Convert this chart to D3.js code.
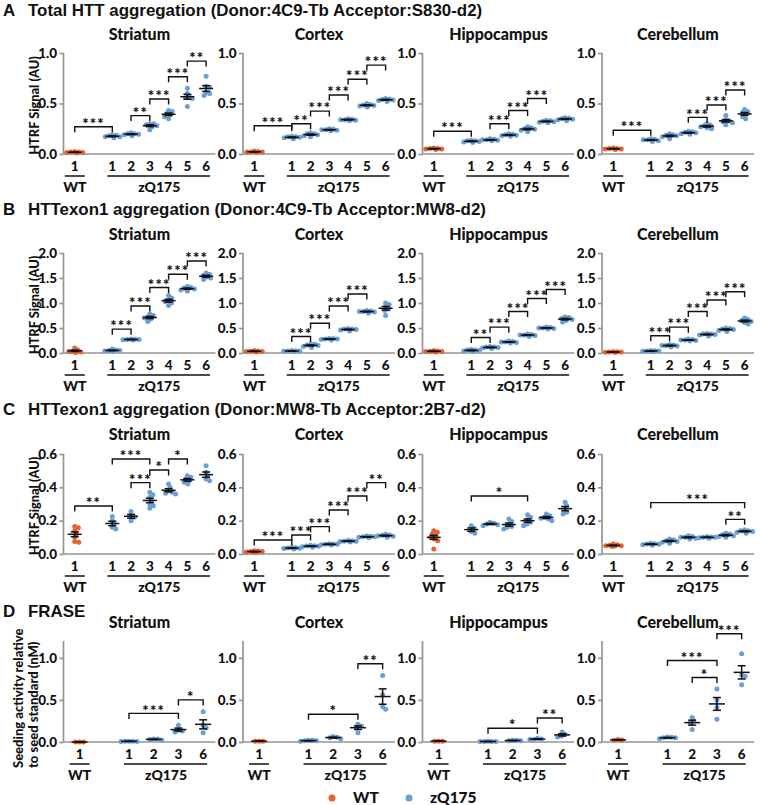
<!DOCTYPE html>
<html><head><meta charset="utf-8">
<script src="https://cdn.jsdelivr.net/npm/d3@7"></script>
<style>
body{margin:0;background:#fff}
svg{display:block}
text{font-family:Lato,"Open Sans",sans-serif;font-weight:900;fill:#111}
</style>
</head><body>
<svg id="c" width="760" height="805"></svg>
<script>
// ---------- labels ----------
const regions = ["Striatum", "Cortex", "Hippocampus", "Cerebellum"];
const groupNames = ["WT", "zQ175"];
const catsABC = ["1", "1", "2", "3", "4", "5", "6"];
const catsD = ["1", "1", "2", "3", "6"];
const rowLetters = ["A", "B", "C", "D"];
const rowTitles = [
  "Total HTT aggregation (Donor:4C9-Tb Acceptor:S830-d2)",
  "HTTexon1 aggregation (Donor:4C9-Tb Acceptor:MW8-d2)",
  "HTTexon1 aggregation (Donor:MW8-Tb Acceptor:2B7-d2)",
  "FRASE"
];
const yLabelHTRF = ["HTRF Signal (AU)"];
const yLabelFRASE = ["Seeding activity relative", "to seed standard (nM)"];
const yTicksA = [0, 0.5, 1.0];
const yTicksB = [0, 0.5, 1.0, 1.5, 2.0];
const yTicksC = [0, 0.2, 0.4, 0.6];
const yTicksD = [0, 0.5, 1.0];
const yMaxes = [1.0, 2.0, 0.6, 1.2];

// ---------- data: per group [WT, zQ175 1..6] ----------
const A_striatum = [
  [0.01, 0.015, 0.02, 0.02, 0.025, 0.015],
  [0.16, 0.17, 0.17, 0.18, 0.185, 0.19],
  [0.18, 0.19, 0.195, 0.2, 0.2, 0.21],
  [0.24, 0.27, 0.28, 0.29, 0.3, 0.3],
  [0.35, 0.37, 0.39, 0.4, 0.42, 0.43],
  [0.47, 0.55, 0.56, 0.57, 0.6, 0.65],
  [0.58, 0.6, 0.61, 0.66, 0.67, 0.77]
];
const A_cortex = [
  [0.015, 0.02, 0.025, 0.02, 0.03, 0.02],
  [0.15, 0.16, 0.165, 0.17, 0.17, 0.175],
  [0.17, 0.18, 0.19, 0.2, 0.2, 0.21],
  [0.23, 0.235, 0.24, 0.24, 0.245, 0.25],
  [0.33, 0.335, 0.34, 0.345, 0.35, 0.34],
  [0.465, 0.475, 0.48, 0.485, 0.49, 0.5],
  [0.52, 0.53, 0.535, 0.54, 0.545, 0.55]
];
const A_hippocampus = [
  [0.045, 0.05, 0.055, 0.055, 0.06, 0.05],
  [0.115, 0.12, 0.125, 0.13, 0.13, 0.135],
  [0.13, 0.135, 0.14, 0.14, 0.145, 0.15],
  [0.175, 0.18, 0.185, 0.19, 0.195, 0.2],
  [0.22, 0.235, 0.245, 0.25, 0.26, 0.27],
  [0.31, 0.315, 0.32, 0.325, 0.33, 0.335],
  [0.33, 0.34, 0.345, 0.35, 0.355, 0.36]
];
const A_cerebellum = [
  [0.045, 0.05, 0.055, 0.055, 0.06, 0.05],
  [0.125, 0.13, 0.14, 0.145, 0.15, 0.14],
  [0.15, 0.17, 0.18, 0.185, 0.2, 0.19],
  [0.195, 0.2, 0.21, 0.215, 0.22, 0.225],
  [0.25, 0.26, 0.27, 0.28, 0.285, 0.3],
  [0.29, 0.31, 0.32, 0.33, 0.34, 0.38],
  [0.35, 0.37, 0.39, 0.41, 0.42, 0.44]
];
const B_striatum = [
  [0.01, 0.02, 0.03, 0.04, 0.06, 0.1],
  [0.03, 0.04, 0.05, 0.05, 0.06, 0.08],
  [0.26, 0.265, 0.27, 0.27, 0.275, 0.28],
  [0.63, 0.68, 0.7, 0.72, 0.75, 0.78],
  [0.95, 1.0, 1.03, 1.05, 1.1, 1.15],
  [1.24, 1.26, 1.28, 1.3, 1.31, 1.33],
  [1.47, 1.5, 1.52, 1.55, 1.57, 1.6]
];
const B_cortex = [
  [0.02, 0.03, 0.035, 0.04, 0.05, 0.03],
  [0.03, 0.035, 0.04, 0.045, 0.05, 0.04],
  [0.11, 0.13, 0.15, 0.16, 0.18, 0.18],
  [0.26, 0.27, 0.28, 0.28, 0.29, 0.29],
  [0.44, 0.46, 0.47, 0.48, 0.48, 0.49],
  [0.8, 0.82, 0.83, 0.83, 0.84, 0.85],
  [0.75, 0.85, 0.88, 0.92, 0.97, 1.0]
];
const B_hippocampus = [
  [0.02, 0.03, 0.035, 0.04, 0.05, 0.03],
  [0.03, 0.04, 0.05, 0.06, 0.07, 0.06],
  [0.09, 0.1, 0.11, 0.12, 0.13, 0.12],
  [0.2, 0.21, 0.22, 0.23, 0.24, 0.22],
  [0.33, 0.35, 0.36, 0.37, 0.38, 0.36],
  [0.48, 0.49, 0.5, 0.51, 0.52, 0.5],
  [0.62, 0.65, 0.67, 0.69, 0.71, 0.72]
];
const B_cerebellum = [
  [0.01, 0.015, 0.02, 0.025, 0.03, 0.02],
  [0.03, 0.035, 0.04, 0.045, 0.05, 0.04],
  [0.12, 0.14, 0.15, 0.16, 0.17, 0.15],
  [0.24, 0.25, 0.26, 0.26, 0.27, 0.28],
  [0.34, 0.36, 0.37, 0.38, 0.39, 0.38],
  [0.43, 0.45, 0.47, 0.48, 0.49, 0.5],
  [0.58, 0.61, 0.63, 0.65, 0.67, 0.7]
];
const C_striatum = [
  [0.165, 0.158, 0.14, 0.12, 0.1, 0.075, 0.07],
  [0.225, 0.2, 0.18, 0.16, 0.15],
  [0.255, 0.23, 0.22, 0.2],
  [0.37, 0.355, 0.34, 0.32, 0.3, 0.29, 0.275],
  [0.42, 0.4, 0.38, 0.37, 0.36, 0.365],
  [0.47, 0.46, 0.45, 0.43, 0.42, 0.44],
  [0.53, 0.49, 0.47, 0.45, 0.44]
];
const C_cortex = [
  [0.01, 0.012, 0.015, 0.015, 0.018, 0.02, 0.01],
  [0.03, 0.033, 0.035, 0.038, 0.04, 0.036],
  [0.04, 0.044, 0.047, 0.05, 0.052, 0.048],
  [0.054, 0.056, 0.058, 0.06, 0.062, 0.058],
  [0.072, 0.075, 0.077, 0.08, 0.082, 0.076],
  [0.098, 0.1, 0.103, 0.106, 0.108, 0.103],
  [0.1, 0.106, 0.11, 0.114, 0.118, 0.112]
];
const C_hippocampus = [
  [0.14, 0.13, 0.12, 0.11, 0.1, 0.09, 0.08, 0.03],
  [0.17, 0.155, 0.135, 0.125],
  [0.19, 0.185, 0.18, 0.175, 0.17],
  [0.21, 0.195, 0.18, 0.165, 0.15, 0.16],
  [0.235, 0.22, 0.205, 0.19, 0.18, 0.17],
  [0.24, 0.23, 0.22, 0.215, 0.21, 0.2],
  [0.31, 0.29, 0.27, 0.25, 0.24]
];
const C_cerebellum = [
  [0.045, 0.048, 0.05, 0.052, 0.055, 0.06, 0.05],
  [0.052, 0.055, 0.058, 0.06, 0.062, 0.065],
  [0.065, 0.07, 0.075, 0.08, 0.085, 0.09],
  [0.09, 0.095, 0.1, 0.1, 0.105, 0.11],
  [0.095, 0.098, 0.1, 0.102, 0.105, 0.1],
  [0.1, 0.105, 0.11, 0.115, 0.12, 0.125],
  [0.125, 0.13, 0.135, 0.14, 0.14, 0.145]
];
// Row D groups: WT, zQ175 1, 2, 3, 6
const D_striatum = [
  [0, 0, 0],
  [0.005, 0.005, 0.01, 0.01, 0.01],
  [0.025, 0.03, 0.035, 0.035],
  [0.2, 0.14, 0.13, 0.12],
  [0.36, 0.2, 0.17, 0.11]
];
const D_cortex = [
  [0.01, 0.01, 0.01],
  [0.01, 0.015, 0.015, 0.02, 0.02],
  [0.065, 0.055, 0.05, 0.04],
  [0.21, 0.19, 0.17, 0.11],
  [0.79, 0.56, 0.42, 0.39]
];
const D_hippocampus = [
  [0.01, 0.01, 0.01],
  [0.005, 0.005, 0.005, 0.01, 0.005],
  [0.015, 0.02, 0.02, 0.015],
  [0.045, 0.035, 0.03, 0.03],
  [0.12, 0.09, 0.07, 0.06]
];
const D_cerebellum = [
  [0.02, 0.03, 0.025],
  [0.04, 0.05, 0.055, 0.06, 0.05],
  [0.29, 0.25, 0.23, 0.15],
  [0.63, 0.5, 0.41, 0.27],
  [1.05, 0.8, 0.78, 0.68]
];

// ---------- significance brackets: [fromGroup, toGroup, value, label] ----------
const A_striatum_sig = [[0,1,0.27,"***"],[2,3,0.38,"**"],[3,4,0.545,"***"],[4,5,0.765,"***"],[5,6,0.92,"**"]];
const A_cortex_sig = [[0,1,0.28,"***"],[1,2,0.30,"**"],[2,3,0.425,"***"],[3,4,0.584,"***"],[4,5,0.74,"***"],[5,6,0.88,"***"]];
const A_hippocampus_sig = [[0,1,0.225,"***"],[2,3,0.30,"***"],[3,4,0.43,"***"],[4,5,0.55,"***"]];
const A_cerebellum_sig = [[0,1,0.235,"***"],[3,4,0.363,"***"],[4,5,0.485,"***"],[5,6,0.634,"***"]];
const B_striatum_sig = [[1,2,0.477,"***"],[2,3,0.94,"***"],[3,4,1.31,"***"],[4,5,1.576,"***"],[5,6,1.84,"***"]];
const B_cortex_sig = [[1,2,0.33,"***"],[2,3,0.596,"***"],[3,4,0.94,"***"],[4,5,1.18,"***"]];
const B_hippocampus_sig = [[1,2,0.31,"**"],[2,3,0.517,"***"],[3,4,0.83,"***"],[4,5,1.09,"***"],[5,6,1.27,"***"]];
const B_cerebellum_sig = [[1,2,0.344,"***"],[2,3,0.517,"***"],[3,4,0.83,"***"],[4,5,1.06,"***"],[5,6,1.225,"***"]];
const C_striatum_sig = [[0,1,0.288,"**"],[1,3,0.57,"***"],[2,3,0.428,"***"],[3,4,0.504,"*"],[4,5,0.57,"*"]];
const C_cortex_sig = [[0,1,0.084,"***"],[1,2,0.114,"***"],[2,3,0.164,"***"],[3,4,0.264,"***"],[4,5,0.348,"***"],[5,6,0.428,"**"]];
const C_hippocampus_sig = [[1,4,0.348,"*"]];
const C_cerebellum_sig = [[1,6,0.308,"***"],[5,6,0.208,"**"]];
const D_striatum_sig = [[1,3,0.34,"***"],[3,4,0.5,"*"]];
const D_cortex_sig = [[1,3,0.33,"*"],[3,4,0.93,"**"]];
const D_hippocampus_sig = [[1,3,0.163,"*"],[3,4,0.286,"**"]];
const D_cerebellum_sig = [[1,3,0.968,"***"],[2,3,0.766,"*"],[3,4,1.286,"***"]];

// ---------- assemble ----------
const rowData = [
  [A_striatum, A_cortex, A_hippocampus, A_cerebellum],
  [B_striatum, B_cortex, B_hippocampus, B_cerebellum],
  [C_striatum, C_cortex, C_hippocampus, C_cerebellum],
  [D_striatum, D_cortex, D_hippocampus, D_cerebellum]
];
const rowSig = [
  [A_striatum_sig, A_cortex_sig, A_hippocampus_sig, A_cerebellum_sig],
  [B_striatum_sig, B_cortex_sig, B_hippocampus_sig, B_cerebellum_sig],
  [C_striatum_sig, C_cortex_sig, C_hippocampus_sig, C_cerebellum_sig],
  [D_striatum_sig, D_cortex_sig, D_hippocampus_sig, D_cerebellum_sig]
];
const rowTicks = [yTicksA, yTicksB, yTicksC, yTicksD];
const rowCats = [catsABC, catsABC, catsABC, catsD];
const rowYLabels = [yLabelHTRF, yLabelHTRF, yLabelHTRF, yLabelFRASE];

// layout
const layout = [
  {top: 53, zero: 154, titleY: 15.5, panelY: 40},
  {top: 253, zero: 353, titleY: 215, panelY: 240},
  {top: 454, zero: 554, titleY: 415, panelY: 440},
  {top: 641, zero: 742, titleY: 617, panelY: 628}
];
const panelLeft0 = 63.5, panelStep = 179.5, panelW = 152;
const colWT = "#E8622E", colZ = "#6A9ED8", axisCol = "#959595";
const R = 2.5;

const svg = d3.select("#c");
svg.append("rect").attr("width", 760).attr("height", 805).attr("fill", "#fff");

function fmt(v) { return d3.format(".1f")(v); }

function swarm(vals, y, minD, maxOff) {
  const pts = vals.map(v => ({v, py: y(v)})).sort((a, b) => a.py - b.py);
  const placed = [];
  const cands = [0];
  for (let k = 0.5; k <= maxOff; k += 0.5) { cands.push(k, -k); }
  pts.forEach(p => {
    let chosen = null, bestScore = -1, bestOff = 0;
    for (const off of cands) {
      let md = Infinity;
      for (const q of placed) {
        const d = Math.hypot(off - q.dx, p.py - q.py);
        if (d < md) md = d;
      }
      if (md >= minD) { chosen = off; break; }
      if (md > bestScore) { bestScore = md; bestOff = off; }
    }
    p.dx = chosen === null ? bestOff : chosen;
    placed.push(p);
  });
  return pts;
}

rowData.forEach((panels, r) => {
  const L = layout[r];
  const isD = r === 3;
  const cats = rowCats[r];
  // row title
  svg.append("text").attr("x", 3).attr("y", L.titleY)
    .style("font-family", "'Liberation Sans', Arial, sans-serif").style("font-weight", 700)
    .style("font-size", "16.9px").text(rowLetters[r]);
  svg.append("text").attr("x", 28).attr("y", L.titleY)
    .style("font-family", "'Liberation Sans', Arial, sans-serif").style("font-weight", 700)
    .style("font-size", "16.9px").text(rowTitles[r]);

  const y = d3.scaleLinear().domain([0, yMaxes[r]]).range([L.zero, L.top]);
  const x = d3.scaleLinear()
    .domain(isD ? [-0.65, cats.length + 0.5] : [-0.6, cats.length + 0.5])
    .range([0, panelW]);
  const pos = i => x(i === 0 ? 0 : i + 1);

  panels.forEach((groups, p) => {
    const g = svg.append("g").attr("transform", `translate(${panelLeft0 + p * panelStep},0)`);
    // panel title
    g.append("text").attr("x", panelW / 2).attr("y", L.panelY)
      .attr("text-anchor", "middle").style("font-size", "16px").text(regions[p]);

    // y axis
    const yAxis = d3.axisLeft(y).tickValues(rowTicks[r]).tickFormat(fmt).tickSize(4).tickPadding(2.5);
    const ya = g.append("g").call(yAxis);
    ya.select(".domain").attr("stroke", axisCol).attr("stroke-width", 1.7)
      .attr("d", `M0,${L.zero}V${L.top}`);
    ya.selectAll(".tick line").attr("stroke", axisCol).attr("stroke-width", 1.7);
    ya.selectAll(".tick text").style("font-family", "Lato, sans-serif")
      .style("font-size", "13.5px").style("font-weight", 900).attr("fill", "#111");
    // x axis baseline
    const xAxis = d3.axisBottom(x).tickValues([]).tickSize(0);
    const xa = g.append("g").attr("transform", `translate(0,${L.zero})`).call(xAxis);
    xa.select(".domain").attr("stroke", axisCol).attr("stroke-width", 1.7)
      .attr("d", `M0,0H${panelW}`);

    // y label
    if (p === 0) {
      const labs = rowYLabels[r];
      if (labs.length === 1) {
        svg.append("text")
          .attr("transform", `translate(39,${(L.top + L.zero) / 2 + 2}) rotate(-90)`)
          .attr("text-anchor", "middle").style("font-size", "12.8px").text(labs[0]);
      } else {
        labs.forEach((t, i) => {
          svg.append("text")
            .attr("transform", `translate(${23 + i * 15},768) rotate(-90)`)
            .attr("text-anchor", "start").style("font-size", "13px").text(t);
        });
      }
    }

    // category labels
    cats.forEach((c, i) => {
      g.append("text").attr("x", pos(i)).attr("y", L.zero + 16.5)
        .attr("text-anchor", "middle").style("font-size", "13.5px").text(c);
    });
    const zFirst = pos(1), zLast = pos(cats.length - 1);
    g.append("line").attr("x1", pos(0) - 10).attr("x2", pos(0) + 10)
      .attr("y1", L.zero + 22).attr("y2", L.zero + 22).attr("stroke", "#111").attr("stroke-width", 1.5);
    g.append("line").attr("x1", zFirst - 5).attr("x2", zLast + 4)
      .attr("y1", L.zero + 22).attr("y2", L.zero + 22).attr("stroke", "#111").attr("stroke-width", 1.5);
    g.append("text").attr("x", pos(0)).attr("y", L.zero + 38)
      .attr("text-anchor", "middle").style("font-size", "14px").text(groupNames[0]);
    g.append("text").attr("x", (zFirst + zLast) / 2).attr("y", L.zero + 38)
      .attr("text-anchor", "middle").style("font-size", "14px").text(groupNames[1]);

    // points
    groups.forEach((vals, i) => {
      const cx = pos(i);
      const pts = swarm(vals, y, 3.6, 8);
      g.append("g").selectAll("circle").data(pts).join("circle")
        .attr("cx", d => cx + d.dx).attr("cy", d => d.py).attr("r", R)
        .attr("fill", i === 0 ? colWT : colZ);
      const m = d3.mean(vals);
      const sem = vals.length > 1 ? d3.deviation(vals) / Math.sqrt(vals.length) : 0;
      const hw = isD ? 8 : 7, cw = 4;
      const lg = g.append("g").attr("stroke", "#111").attr("stroke-width", 1.5);
      lg.append("line").attr("x1", cx - hw).attr("x2", cx + hw).attr("y1", y(m)).attr("y2", y(m));
      lg.append("line").attr("x1", cx).attr("x2", cx).attr("y1", y(m - sem)).attr("y2", y(m + sem));
      lg.append("line").attr("x1", cx - cw).attr("x2", cx + cw).attr("y1", y(m - sem)).attr("y2", y(m - sem));
      lg.append("line").attr("x1", cx - cw).attr("x2", cx + cw).attr("y1", y(m + sem)).attr("y2", y(m + sem));
    });

    // significance brackets
    rowSig[r][p].forEach(([a, b, v, lab]) => {
      const x1 = pos(a), x2 = pos(b), yy = y(v);
      g.append("path").attr("d", `M${x1},${yy + 5.5}V${yy}H${x2}V${yy + 5.5}`)
        .attr("fill", "none").attr("stroke", "#111").attr("stroke-width", 1.4);
      g.append("text").attr("x", (x1 + x2) / 2).attr("y", yy + 2.2)
        .attr("text-anchor", "middle").style("font-size", "15px")
        .style("letter-spacing", "1.2px").text(lab);
    });
  });
});

// legend
const legend = svg.append("g");
const legItems = [[groupNames[0], colWT, 332], [groupNames[1], colZ, 409]];
legItems.forEach(([t, c, lx]) => {
  legend.append("circle").attr("cx", lx).attr("cy", 798).attr("r", 3.5).attr("fill", c);
  legend.append("text").attr("x", lx + 21).attr("y", 803).style("font-size", "15.5px").text(t);
});
</script>
</body></html>
